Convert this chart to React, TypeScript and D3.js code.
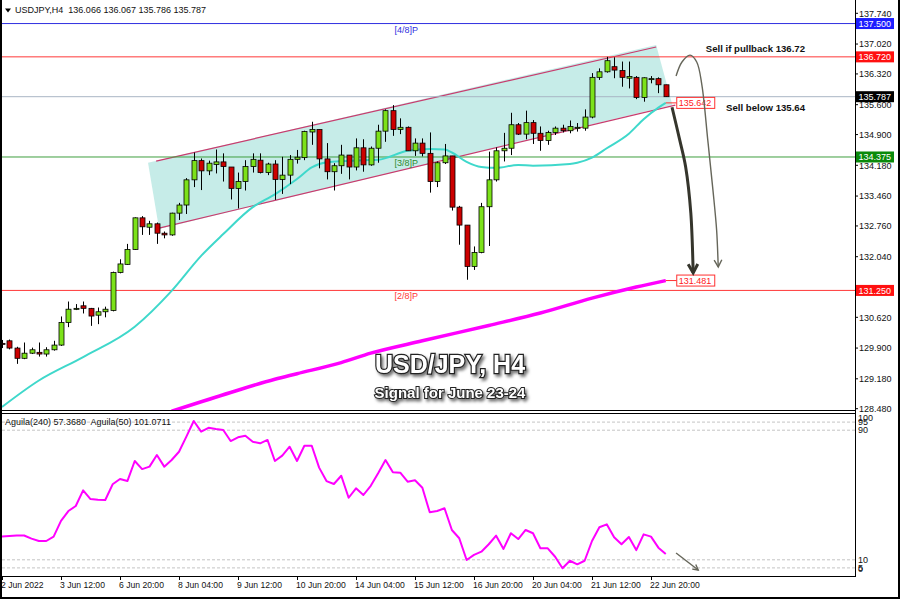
import * as d3 from 'd3'

// bar index -> [open, high, low, close], H4 bars from 2 Jun to 23 Jun 2022
const CANDLES: [number, number, number, number][] = [
  [130.01, 130.09, 129.9, 130.0], [130.07, 130.1, 129.87, 129.9], [129.9, 129.93, 129.53, 129.66],
  [129.66, 130.03, 129.64, 129.78], [129.78, 129.91, 129.76, 129.86], [129.8, 130.03, 129.7, 129.76],
  [129.76, 129.92, 129.7, 129.86], [129.86, 130.07, 129.84, 129.97], [129.97, 130.64, 129.95, 130.5],
  [130.5, 130.99, 130.39, 130.81], [130.81, 130.93, 130.79, 130.83], [130.89, 130.99, 130.71, 130.83],
  [130.83, 130.84, 130.42, 130.65], [130.67, 130.85, 130.46, 130.75], [130.75, 130.87, 130.62, 130.81],
  [130.78, 131.69, 130.76, 131.67], [131.67, 131.98, 131.65, 131.87], [131.86, 132.34, 131.85, 132.21],
  [132.21, 132.96, 132.2, 132.95], [132.95, 132.99, 132.55, 132.74], [132.73, 132.88, 132.55, 132.81],
  [132.81, 132.84, 132.34, 132.59], [132.59, 132.63, 132.47, 132.55], [132.55, 133.07, 132.53, 133.06],
  [133.06, 133.3, 132.9, 133.25], [133.25, 133.88, 133.04, 133.84], [133.84, 134.48, 133.67, 134.29],
  [134.29, 134.34, 133.6, 134.05], [134.05, 134.29, 133.95, 134.23], [134.2, 134.55, 133.99, 134.26],
  [134.26, 134.46, 133.8, 134.15], [134.14, 134.14, 133.38, 133.64], [133.64, 134.01, 133.17, 133.8],
  [133.8, 134.3, 133.59, 134.15], [134.15, 134.46, 134.01, 134.32], [134.3, 134.46, 133.99, 134.01],
  [134.01, 134.24, 133.95, 134.21], [134.21, 134.3, 133.37, 133.85], [133.85, 134.38, 133.51, 133.95],
  [133.95, 134.42, 133.74, 134.32], [134.32, 134.54, 134.22, 134.37], [134.36, 134.99, 134.3, 134.97],
  [134.96, 135.2, 134.66, 135.02], [135.02, 135.02, 134.11, 134.33], [134.33, 134.7, 133.85, 134.03],
  [134.03, 134.23, 133.59, 134.17], [134.17, 134.66, 133.98, 134.42], [134.42, 134.42, 133.85, 134.14],
  [134.14, 134.81, 134.06, 134.59], [134.59, 134.79, 134.03, 134.19], [134.19, 134.62, 134.17, 134.58],
  [134.58, 135.13, 134.24, 134.98], [134.98, 135.49, 134.73, 135.46], [135.46, 135.59, 134.87, 135.02],
  [135.02, 135.28, 134.91, 135.07], [135.07, 135.09, 134.52, 134.52], [134.52, 134.81, 134.4, 134.7],
  [134.7, 134.81, 134.39, 134.46], [134.46, 134.95, 133.54, 133.8], [133.8, 134.27, 133.67, 134.24],
  [134.24, 134.68, 134.21, 134.4], [134.4, 134.4, 133.12, 133.2], [133.2, 133.23, 132.32, 132.78],
  [132.78, 132.78, 131.5, 131.81], [131.81, 132.28, 131.73, 132.14], [132.14, 133.3, 132.12, 133.21],
  [133.21, 134.5, 132.29, 133.84], [133.84, 134.6, 133.8, 134.52], [134.52, 134.94, 134.27, 134.58],
  [134.58, 135.41, 134.42, 135.13], [135.13, 135.17, 134.89, 134.91], [134.91, 135.46, 134.79, 135.18],
  [135.18, 135.24, 134.68, 134.93], [134.93, 135.09, 134.52, 134.76], [134.76, 134.99, 134.66, 134.95],
  [134.95, 135.09, 134.89, 135.05], [135.05, 135.13, 134.95, 134.99], [134.99, 135.23, 134.93, 135.09],
  [135.06, 135.17, 134.97, 135.07], [135.05, 135.49, 134.99, 135.31], [135.31, 136.34, 135.28, 136.24],
  [136.24, 136.45, 136.18, 136.37], [136.37, 136.72, 136.35, 136.63], [136.49, 136.71, 136.22, 136.41],
  [136.4, 136.61, 136.02, 136.24], [136.22, 136.61, 135.98, 136.26], [136.24, 136.27, 135.73, 135.77],
  [135.77, 136.24, 135.67, 136.23], [136.2, 136.27, 136.1, 136.21], [136.21, 136.24, 135.87, 136.066],
  [136.066, 136.067, 135.786, 135.787],
]

// moving averages: [bar index, price]
const MA_FAST: [number, number][] = [
  [0, 128.52], [5, 129.14], [11, 129.69], [18, 130.4], [23, 131.24], [27, 132.06], [30, 132.57],
  [34, 133.2], [37, 133.5], [40, 133.86], [42, 134.13], [44, 134.25], [49, 134.3], [51, 134.31],
  [55, 134.52], [58, 134.56], [60, 134.55], [61, 134.48], [63, 134.26], [65, 134.14], [67, 134.12],
  [70, 134.19], [72, 134.17], [77, 134.21], [78, 134.24], [80, 134.36], [82, 134.58], [85, 134.92],
  [87, 135.26], [89, 135.53], [90, 135.642],
]
const MA_SLOW: [number, number][] = [
  [23, 128.42], [31, 128.86], [37, 129.17], [40, 129.3], [46, 129.56], [50, 129.78], [57, 130.07],
  [66, 130.43], [73, 130.72], [80, 131.07], [86, 131.33], [90, 131.481],
]

// Aguila oscillator, one value per bar
const AGUILA: number[] = [
  24.4, 24.7, 25.0, 25.0, 23.1, 21.6, 21.6, 24.3, 34.0, 40.1, 43.2, 52.9, 47.5, 47.1, 46.9, 56.6,
  59.9, 58.6, 71.0, 66.0, 67.5, 74.7, 67.5, 71.6, 76.7, 86.0, 95.7, 89.1, 91.5, 90.7, 90.1, 83.3,
  85.6, 86.6, 82.9, 81.9, 84.0, 71.0, 74.3, 79.8, 71.0, 80.4, 80.4, 66.9, 58.6, 56.8, 61.9, 48.3,
  54.1, 50.0, 55.7, 63.4, 71.6, 64.0, 63.8, 58.2, 59.1, 54.5, 39.3, 40.1, 41.8, 28.4, 23.3, 9.9,
  13.0, 15.0, 19.6, 24.9, 16.7, 26.4, 22.8, 28.4, 26.4, 17.1, 17.1, 11.9, 4.8, 9.4, 7.2, 9.4,
  21.6, 30.1, 31.9, 23.9, 19.6, 24.1, 16.0, 25.7, 24.3, 17.5, 13.6,
]

const DATE_TICKS: [number, string][] = [
  [0, '2 Jun 2022'], [8, '3 Jun 12:00'], [16, '6 Jun 20:00'], [24, '8 Jun 04:00'], [32, '9 Jun 12:00'],
  [40, '10 Jun 20:00'], [48, '14 Jun 04:00'], [56, '15 Jun 12:00'], [64, '16 Jun 20:00'],
  [72, '20 Jun 04:00'], [80, '21 Jun 12:00'], [88, '22 Jun 20:00'],
]
const PRICE_TICKS = [137.74, 137.02, 136.32, 135.6, 134.9, 134.18, 133.46, 132.76, 132.04, 130.62, 129.9, 129.18, 128.48]
const IND_TICKS = [100, 95, 90, 10, 5, 0]
const IND_DASHED = [95, 90, 10, 5]

// horizontal levels: price, murrey label
const LEVEL_PRICES = [137.5, 136.72, 135.787, 134.375, 131.25]
const LEVEL_LABELS = ['[4/8]P', '', '', '[3/8]P', '[2/8]P']
const LEVEL_COLORS = ['#2f2fe0', '#ff3838', '#a9b6c4', '#3f9f3f', '#ff3838']
const LEVEL_BOX = ['#1d1dff', '#ff1010', '#000000', '#0a8a0a', '#ff1010']

// drawn objects, [bar index, price]
const CHANNEL_FILL: [number, number][] = [[19.8, 134.24], [88.7, 137.0], [90.9, 135.59], [21.3, 132.69]]
const CHANNEL_UPPER: [number, number][] = [[20.9, 134.28], [88.7, 136.95]]
const CHANNEL_LOWER: [number, number][] = [[21.3, 132.71], [91.3, 135.59]]
const ARROW_MAIN: [number, number][] = [[90.85, 135.54], [91.9, 134.77], [92.7, 134.14], [93.4, 133.06], [93.7, 131.8], [93.72, 131.66]]
const ARROW_ALT: [number, number][] = [
  [91.4, 136.27], [92.2, 136.6], [93.3, 136.76], [94.2, 136.6], [94.9, 136.06], [95.7, 134.77],
  [96.4, 133.6], [96.9, 132.66], [97.1, 131.89], [97.12, 131.8],
]
const ARROW_IND: [number, number][] = [[91.4, 14.2], [94.4, 3.7]]

const W = 900
const H = 599
const AXIS_X = 855
const MAIN_BOTTOM = 410
const IND_TOP = 414
const IND_BOTTOM = 576
const FONT = '"Liberation Sans", Arial, sans-serif'

const x = d3.scaleLinear().domain([0, 90]).range([2, 665.75])
const y = d3.scaleLinear().domain([128.48, 137.74]).range([408.7, 13.3])
const yi = d3.scaleLinear().domain([0, 100]).range([IND_BOTTOM, IND_TOP])

const priceLine = d3.line<[number, number]>().x((d) => x(d[0])).y((d) => y(d[1])).curve(d3.curveMonotoneX)
const arrowLine = d3.line<[number, number]>().x((d) => x(d[0])).y((d) => y(d[1])).curve(d3.curveCatmullRom)
const indLine = d3.line<number>().x((_, i) => x(i)).y((d) => yi(d))

function chevron(pts: [number, number][], size: number) {
  const [x0, y0] = pts[pts.length - 2]
  const [x1, y1] = pts[pts.length - 1]
  const a = Math.atan2(y1 - y0, x1 - x0)
  const p = (da: number) => [x1 - size * Math.cos(a + da), y1 - size * Math.sin(a + da)]
  const [ax, ay] = p(0.5)
  const [bx, by] = p(-0.5)
  return `M${ax},${ay}L${x1},${y1}L${bx},${by}`
}

export default function App() {
  const mainArrow = ARROW_MAIN.map((d) => [x(d[0]), y(d[1])] as [number, number])
  const altArrow = ARROW_ALT.map((d) => [x(d[0]), y(d[1])] as [number, number])
  const indArrow = ARROW_IND.map((d) => [x(d[0]), yi(d[1])] as [number, number])
  const fill = CHANNEL_FILL.map((d) => `${x(d[0])},${y(d[1])}`).join(' ')
  const last = CANDLES[CANDLES.length - 1]

  return (
    <svg width={W} height={H} style={{ position: 'absolute', left: 0, top: 0, background: '#fff' }} fontFamily={FONT}>
      <defs>
        <clipPath id="main"><rect x={2} y={0} width={AXIS_X - 2} height={MAIN_BOTTOM} /></clipPath>
        <clipPath id="ind"><rect x={2} y={IND_TOP} width={AXIS_X - 2} height={IND_BOTTOM - IND_TOP} /></clipPath>
        <filter id="shadow" x="-10%" y="-30%" width="130%" height="170%">
          <feDropShadow dx={2} dy={2.5} stdDeviation={1.4} floodColor="#000" floodOpacity={0.55} />
        </filter>
      </defs>
      <rect width={W} height={H} fill="#fff" />

      <g clipPath="url(#main)">
        {/* channel */}
        <polygon points={fill} fill="#5cc9bd" fillOpacity={0.35} />
        <path d={priceLine(CHANNEL_UPPER) ?? ''} stroke="#c83c6e" strokeWidth={1.2} fill="none" />
        <path d={priceLine(CHANNEL_LOWER) ?? ''} stroke="#c83c6e" strokeWidth={1.2} fill="none" />

        {/* levels */}
        {LEVEL_PRICES.map((p, i) => (
          <g key={p}>
            <line x1={2} x2={AXIS_X} y1={y(p)} y2={y(p)} stroke={LEVEL_COLORS[i]} strokeWidth={1} />
            {LEVEL_LABELS[i] && (
              <text x={x(54.8)} y={y(p) + 9} fontSize={9} fill={LEVEL_COLORS[i] === '#3f9f3f' ? '#2e8b2e' : LEVEL_COLORS[i]} textAnchor="middle">
                {LEVEL_LABELS[i]}
              </text>
            )}
          </g>
        ))}

        {/* moving averages */}
        <path d={priceLine(MA_SLOW) ?? ''} stroke="#ff00ff" strokeWidth={3.5} fill="none" />
        <path d={priceLine(MA_FAST) ?? ''} stroke="#3fd8cb" strokeWidth={2} fill="none" />

        {/* candles */}
        {CANDLES.map(([o, h, l, c], i) => {
          const cx = Math.round(x(i)) + 0.5
          const top = y(Math.max(o, c))
          const bot = y(Math.min(o, c))
          return (
            <g key={i}>
              <line x1={cx} x2={cx} y1={y(h)} y2={y(l)} stroke="#000" strokeWidth={1} />
              <rect x={cx - 2.5} y={top} width={5} height={Math.max(1, bot - top)}
                fill={c >= o ? '#7ce21a' : '#cc0000'} stroke="#000" strokeWidth={0.8} />
            </g>
          )
        })}

        {/* end-of-line value tags */}
        {[MA_FAST[MA_FAST.length - 1], MA_SLOW[MA_SLOW.length - 1]].map(([i, p]) => (
          <g key={p}>
            <line x1={x(i)} x2={x(i) + 11} y1={y(p)} y2={y(p)} stroke="#ff3030" />
            <rect x={x(i) + 11} y={y(p) - 5.5} width={38} height={11} fill="#fff" stroke="#ff3030" />
            <text x={x(i) + 13} y={y(p) + 3.5} fontSize={9} fill="#ff2020">{p.toFixed(3)}</text>
          </g>
        ))}

        {/* arrows */}
        <path d={d3.line().curve(d3.curveCatmullRom)(altArrow) ?? ''} stroke="#66665a" strokeWidth={1.4} fill="none" />
        <path d={chevron(altArrow, 8)} stroke="#66665a" strokeWidth={1.4} fill="none" />
        <path d={d3.line().curve(d3.curveCatmullRom)(mainArrow) ?? ''} stroke="#35352c" strokeWidth={3} fill="none" />
        <path d={chevron(mainArrow, 10)} stroke="#35352c" strokeWidth={3} fill="none" />

        <text x={805} y={y(136.72) - 5} fontSize={9.6} fontWeight="bold" textAnchor="end" fill="#111">Sell if pullback 136.72</text>
        <text x={805} y={y(135.64) + 8} fontSize={9.6} fontWeight="bold" textAnchor="end" fill="#111">Sell below 135.64</text>

        <g filter="url(#shadow)" textAnchor="middle" fontWeight="bold" fill="#fff" stroke="#222" style={{ paintOrder: 'stroke' }}>
          <text x={450} y={373} fontSize={25} strokeWidth={2.4}>USD/JPY, H4</text>
          <text x={450} y={398} fontSize={15} strokeWidth={2}>Signal for June 23-24</text>
        </g>
      </g>

      {/* header */}
      <path d="M5,8.5L11,8.5L8,12.5Z" fill="#000" />
      <text x={15} y={13} fontSize={9} fill="#111" style={{ whiteSpace: 'pre' }}>
        {`USDJPY,H4  ${last[0].toFixed(3)} ${last[1].toFixed(3)} ${last[2].toFixed(3)} ${last[3].toFixed(3)}`}
      </text>

      {/* price axis */}
      {PRICE_TICKS.map((p) => (
        <g key={p}>
          <line x1={AXIS_X} x2={AXIS_X + 3} y1={y(p)} y2={y(p)} stroke="#000" />
          <text x={859} y={y(p) + 3.2} fontSize={9} fill="#111">{p.toFixed(3)}</text>
        </g>
      ))}
      {LEVEL_PRICES.map((p, i) => (
        <g key={p}>
          <rect x={856} y={y(p) - 5.5} width={38} height={11} fill={LEVEL_BOX[i]} />
          <text x={858.5} y={y(p) + 3.3} fontSize={9} fill="#fff">{p.toFixed(3)}</text>
        </g>
      ))}

      {/* indicator */}
      {IND_DASHED.map((v) => (
        <line key={v} x1={2} x2={AXIS_X} y1={yi(v)} y2={yi(v)} stroke="#c4c4c4" strokeDasharray="3,2" />
      ))}
      <g clipPath="url(#ind)">
        <path d={indLine(AGUILA) ?? ''} stroke="#ff00ff" strokeWidth={2} fill="none" strokeLinejoin="round" />
      </g>
      <path d={d3.line()(indArrow) ?? ''} stroke="#66665a" strokeWidth={1.4} fill="none" />
      <path d={chevron(indArrow, 6)} stroke="#66665a" strokeWidth={1.4} fill="none" />
      <text x={5} y={425} fontSize={9} fill="#111" style={{ whiteSpace: 'pre' }}>{'Aguila(240) 57.3680  Aguila(50) 101.0711'}</text>
      {IND_TICKS.map((v) => (
        <text key={v} x={858} y={Math.min(572, Math.max(421, yi(v) + 3.2))} fontSize={9} fill="#111">{v}</text>
      ))}

      {/* time axis */}
      {DATE_TICKS.map(([i, label]) => (
        <g key={label}>
          <line x1={Math.round(x(i)) + 0.5} x2={Math.round(x(i)) + 0.5} y1={IND_BOTTOM} y2={IND_BOTTOM + 4} stroke="#000" />
          <text x={x(i) - 1} y={588} fontSize={8.6} fill="#111">{label}</text>
        </g>
      ))}

      {/* frames */}
      <line x1={AXIS_X + 0.5} x2={AXIS_X + 0.5} y1={0} y2={IND_BOTTOM + 1} stroke="#000" />
      <line x1={2} x2={AXIS_X} y1={MAIN_BOTTOM + 0.5} y2={MAIN_BOTTOM + 0.5} stroke="#000" />
      <line x1={2} x2={AXIS_X} y1={IND_TOP - 0.5} y2={IND_TOP - 0.5} stroke="#000" />
      <line x1={2} x2={AXIS_X} y1={IND_BOTTOM + 0.5} y2={IND_BOTTOM + 0.5} stroke="#000" />
      <rect x={1} y={-2} width={W - 2} height={H + 1} fill="none" stroke="#000" strokeWidth={2} />
    </svg>
  )
}
